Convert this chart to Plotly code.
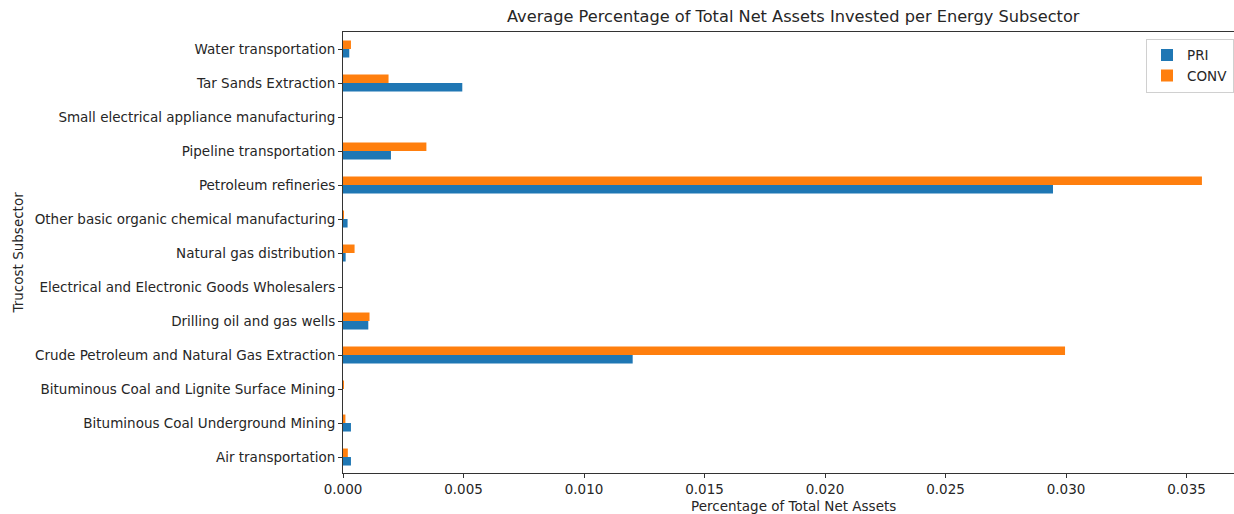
import plotly.graph_objects as go

categories = [
    "Air transportation",
    "Bituminous Coal Underground Mining",
    "Bituminous Coal and Lignite Surface Mining",
    "Crude Petroleum and Natural Gas Extraction",
    "Drilling oil and gas wells",
    "Electrical and Electronic Goods Wholesalers",
    "Natural gas distribution",
    "Other basic organic chemical manufacturing",
    "Petroleum refineries",
    "Pipeline transportation",
    "Small electrical appliance manufacturing",
    "Tar Sands Extraction",
    "Water transportation",
]
pri = [0.00033, 0.00033, 0.0, 0.01202, 0.00105, 0.0, 0.00011, 0.00019, 0.02946, 0.00199, 0.0, 0.00495, 0.00026]
conv = [0.0002, 0.0001, 0.00002, 0.02996, 0.0011, 0.0, 0.00048, 0.00001, 0.03564, 0.00346, 0.0, 0.00189, 0.00033]

x_ticks = [0.0, 0.005, 0.010, 0.015, 0.020, 0.025, 0.030, 0.035]

FONT = "DejaVu Sans"
TXT = "#262626"
AX = "#333333"
FS = 13.5
FS_TITLE = 16.2

fig = go.Figure()
fig.add_trace(go.Bar(y=categories, x=pri, name="PRI", orientation="h",
                     marker=dict(color="#1f77b4", line=dict(width=0))))
fig.add_trace(go.Bar(y=categories, x=conv, name="CONV", orientation="h",
                     marker=dict(color="#ff7f0e", line=dict(width=0))))

W, H = 1234, 514
L, R, T, B = 343, 0, 32, 41
PH = H - T - B
px_per_unit = 24100.0  # pixels per unit of x (0.001 -> 24.1 px)
x_max = (W - L - R) / px_per_unit

fig.update_layout(
    width=W, height=H,
    margin=dict(l=L, r=R, t=T, b=B, pad=0),
    paper_bgcolor="white", plot_bgcolor="white",
    barmode="group", bargap=0.5, bargroupgap=0,
    font=dict(family=FONT, size=FS, color=TXT),
    showlegend=True,
    legend=dict(
        x=1.0, xanchor="right", y=0.985, yanchor="top",
        bgcolor="white", bordercolor="#d0d0d0", borderwidth=1,
        font=dict(family=FONT, size=FS, color=TXT),
        traceorder="normal", itemwidth=30, tracegroupgap=0,
    ),
    annotations=[
        dict(text="Average Percentage of Total Net Assets Invested per Energy Subsector",
             xref="paper", yref="paper", x=0.506, y=(H - B - 17) / PH,
             xanchor="center", yanchor="middle", showarrow=False,
             font=dict(family=FONT, size=FS_TITLE, color=TXT)),
        dict(text="Percentage of Total Net Assets",
             xref="paper", yref="paper", x=0.506, y=(H - B - 506) / PH,
             xanchor="center", yanchor="middle", showarrow=False,
             font=dict(family=FONT, size=FS, color=TXT)),
        dict(text="Trucost Subsector", textangle=-90,
             xref="paper", yref="paper", x=(17 - L) / (W - L - R), y=0.5,
             xanchor="center", yanchor="middle", showarrow=False,
             font=dict(family=FONT, size=FS, color=TXT)),
    ],
)

fig.update_xaxes(
    range=[0, x_max], tickvals=x_ticks, tickformat=".3f",
    showgrid=False, zeroline=False,
    showline=True, linecolor=AX, linewidth=1, mirror=True,
    ticks="outside", ticklen=4, tickcolor=AX, tickwidth=1,
    tickfont=dict(family=FONT, size=FS, color=TXT),
)
fig.update_yaxes(
    type="category", categoryorder="array", categoryarray=categories,
    range=[-0.47, 12.5],
    showgrid=False, zeroline=False,
    showline=True, linecolor=AX, linewidth=1, mirror=False,
    ticks="outside", ticklen=4, tickcolor=AX, tickwidth=1,
    tickfont=dict(family=FONT, size=FS, color=TXT),
)

fig.write_html("out.html")
